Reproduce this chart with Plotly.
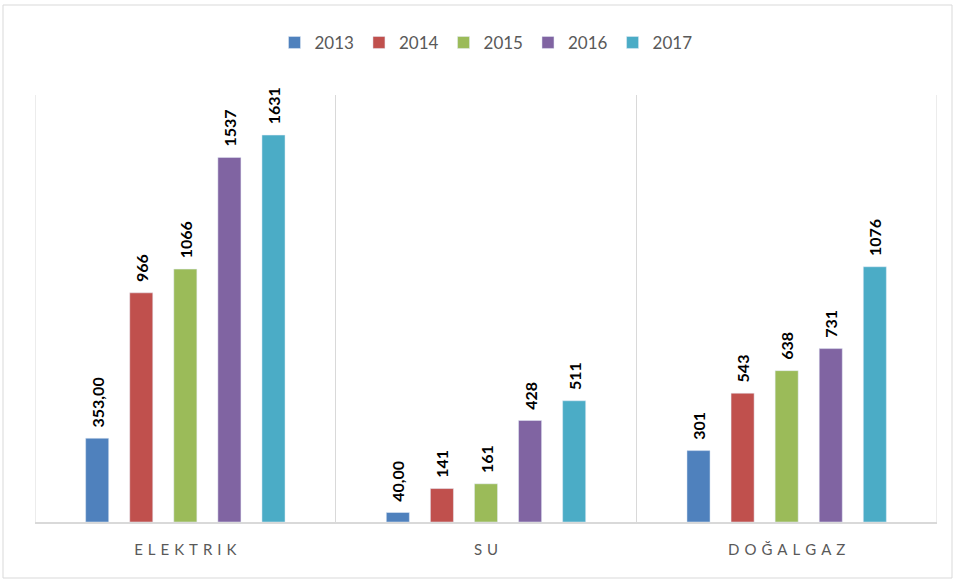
import plotly.graph_objects as go

categories = ["ELEKTRIK", "SU", "DOĞALGAZ"]
years = ["2013", "2014", "2015", "2016", "2017"]
values = {
    "2013": [353, 40, 301],
    "2014": [966, 141, 543],
    "2015": [1066, 161, 638],
    "2016": [1537, 428, 731],
    "2017": [1631, 511, 1076],
}
labels = {
    "2013": ["353,00", "40,00", "301"],
    "2014": ["966", "141", "543"],
    "2015": ["1066", "161", "638"],
    "2016": ["1537", "428", "731"],
    "2017": ["1631", "511", "1076"],
}
colors = ["#4F81BD", "#C0504D", "#9BBB59", "#8064A2", "#4BACC6"]

fig = go.Figure()
for y, c in zip(years, colors):
    fig.add_trace(go.Bar(
        name=y, x=categories, y=values[y],
        text=["\u00a0\u00a0" + t for t in labels[y]],
        textposition="outside", textangle=-90, constraintext="none",
        textfont=dict(family="Lato", size=16, color="#000000", weight="bold"),
        marker=dict(color=c),
        cliponaxis=False,
    ))

spaced = ["\u2004".join(list(c)) for c in categories]

edge_lines = [dict(type="line", xref="x", yref="paper", x0=xv, x1=xv, y0=0, y1=1,
                   line=dict(color="#d9d9d9", width=1), layer="below")
              for xv in (-0.5, 2.5)]

fig.update_layout(
    width=956, height=580,
    barmode="group", bargap=0.267, bargroupgap=0.477,
    margin=dict(l=35, r=19, t=95, b=58),
    paper_bgcolor="white", plot_bgcolor="white",
    font=dict(family="Lato", color="#595959"),
    showlegend=True,
    legend=dict(orientation="h", x=0.5, xanchor="center", y=1.122, yanchor="middle",
                font=dict(size=17, color="#595959"), itemwidth=30, traceorder="normal"),
    xaxis=dict(type="category", range=[-0.5, 2.5], tickson="boundaries",
               showgrid=True, gridcolor="#d9d9d9", gridwidth=1,
               showline=True, linecolor="#d9d9d9", linewidth=1.5,
               ticks="", tickvals=categories, ticktext=spaced,
               tickfont=dict(size=15, color="#595959"), ticklabelstandoff=13),
    yaxis=dict(range=[0, 1800], visible=False, showgrid=False),
    shapes=[dict(type="rect", xref="paper", yref="paper",
                 x0=(3 - 35) / 902, x1=(952 - 35) / 902,
                 y0=(522 - 578) / 427, y1=(522 - 5) / 427,
                 line=dict(color="#d9d9d9", width=1), layer="below")] + edge_lines,
)

fig.write_html("out.html", config={"displayModeBar": False},
               post_script="document.body.style.margin='0';")
